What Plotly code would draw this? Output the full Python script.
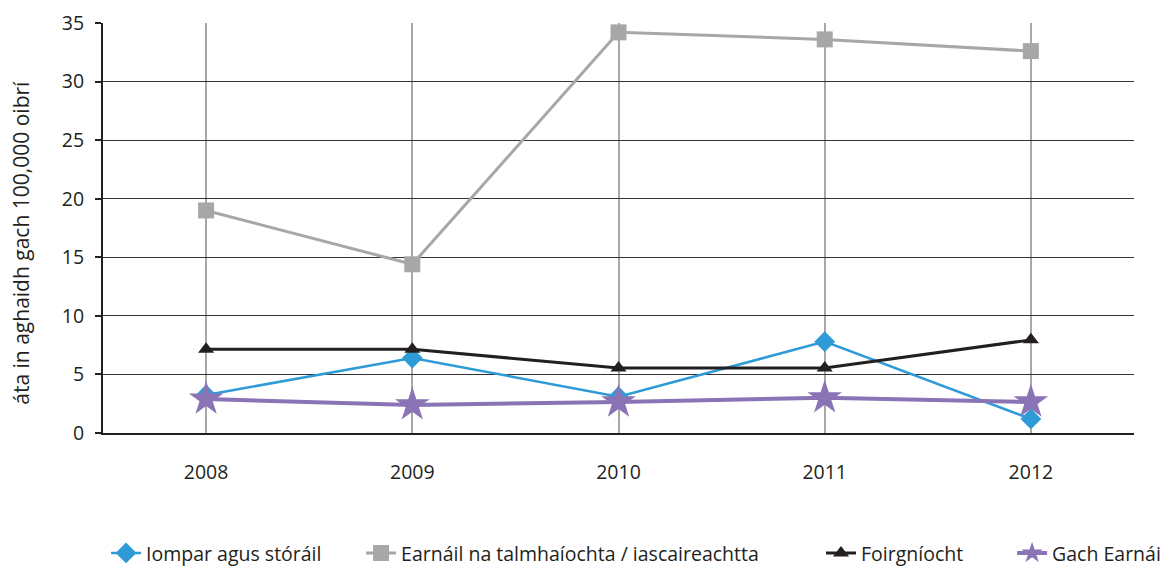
import plotly.graph_objects as go

years = ["2008", "2009", "2010", "2011", "2012"]
iompar = [3.25, 6.4, 3.1, 7.8, 1.2]
earnail = [19.0, 14.4, 34.2, 33.6, 32.6]
foirgniocht = [7.15, 7.15, 5.55, 5.55, 7.95]
gach = [2.9, 2.4, 2.65, 3.0, 2.65]
y_ticks = [0, 5, 10, 15, 20, 25, 30, 35]
y_title = "áta in aghaidh gach 100,000 oibrí"

fig = go.Figure()
fig.add_trace(go.Scatter(x=years, y=iompar, name="Iompar agus stóráil", mode="lines+markers",
                         line=dict(color="#2e9bd6", width=2.5), legend="legend",
                         marker=dict(symbol="diamond", size=16, color="#2e9bd6")))
fig.add_trace(go.Scatter(x=years, y=earnail, name="Earnáil na talmhaíochta / iascaireachtta", mode="lines+markers",
                         line=dict(color="#a7a7a9", width=3), legend="legend2",
                         marker=dict(symbol="square", size=16, color="#a7a7a9")))
fig.add_trace(go.Scatter(x=years, y=foirgniocht, name="Foirgníocht", mode="lines+markers",
                         line=dict(color="#231f20", width=3), legend="legend3",
                         marker=dict(symbol="triangle-up", size=14, color="#231f20")))
fig.add_trace(go.Scatter(x=years, y=gach, name="Gach Earnái", mode="lines+markers",
                         line=dict(color="#8a74b6", width=4), legend="legend4",
                         marker=dict(symbol="star", size=26, color="#8a74b6")))

leg_common = dict(orientation="h", xref="container", yref="container", y=0.04, yanchor="middle",
                  xanchor="left", font=dict(size=19.5), bgcolor="rgba(0,0,0,0)")

fig.update_layout(
    width=1173, height=568,
    margin=dict(l=95, r=47, t=15, b=143),
    paper_bgcolor="white", plot_bgcolor="white",
    font=dict(family="Open Sans, Noto Sans, sans-serif", size=18, color="#231f20"),
    showlegend=True,
    legend=dict(x=0.0836, **leg_common),
    legend2=dict(x=0.3010, **leg_common),
    legend3=dict(x=0.6931, **leg_common),
    legend4=dict(x=0.8560, **leg_common),
    xaxis=dict(type="category", range=[-0.5, 4.5], showgrid=True, gridcolor="#a8a8a8", gridwidth=1.5,
               showline=True, linecolor="#231f20", linewidth=2, ticks="", ticklabelstandoff=21,
               tickfont=dict(size=19.5), automargin=False),
    yaxis=dict(range=[0, 35], tickvals=y_ticks, showgrid=True, gridcolor="#333333", gridwidth=1,
               showline=True, linecolor="#231f20", linewidth=2, ticks="outside", ticklen=6,
               tickcolor="#231f20", tickwidth=1.5, zeroline=False, tickfont=dict(size=19.5),
               ticklabelstandoff=7, automargin=False),
    annotations=[dict(text=y_title, textangle=-90, xref="paper", yref="paper",
                      x=-0.079, y=0.463, xanchor="center", yanchor="middle", showarrow=False,
                      borderpad=0, font=dict(size=21, color="#231f20"))],
)

fig.write_html("out.html")
